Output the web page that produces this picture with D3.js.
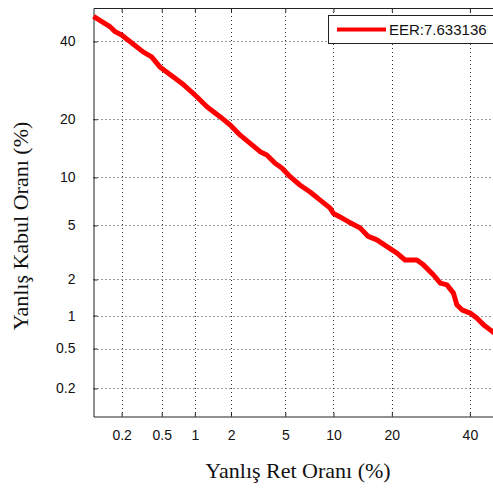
<!DOCTYPE html>
<head>
  <meta charset="utf-8">
  <script src="https://d3js.org/d3.v7.min.js"></script>
  <style>
    body { margin:0; background:white; }
    svg { display:block; }
    .tick text { font-family: "Liberation Sans", Arial, sans-serif; font-size: 14px; fill: #111; }
    .axis path, .axis line { stroke: #222; }
    .grid line { stroke: #333; stroke-dasharray: 1,3; }
    .lab { font-family: "Liberation Serif", "Times New Roman", serif; font-size: 22px; fill: #111; }
  </style>
</head>
<body>
<script>
// DET curve values, percent
var frr = [0.1, 0.152, 0.171, 0.2, 0.245, 0.33, 0.40, 0.48, 0.67, 0.77, 1.04, 1.27, 1.64, 1.97,
  2.36, 2.81, 3.33, 3.72, 4.26, 4.74, 5.39, 6.27, 7.25, 8.35, 9.57, 10.0, 10.9, 12.1, 14.0,
  15.4, 17.0, 19.0, 21.1, 22.9, 25.7, 27.3, 29.9, 31.7, 33.5, 35.3, 36.25, 37.7, 40.1, 42.0,
  44.0, 46.0, 46.9, 48.5];
var far = [47.5, 44.3, 42.9, 41.9, 39.9, 37.0, 35.6, 32.8, 29.7, 28.4, 25.1, 22.75, 20.5, 18.8,
  16.8, 15.3, 13.85, 13.3, 12.0, 11.3, 10.1, 9.0, 8.2, 7.3, 6.5, 6.0, 5.7, 5.3, 4.8,
  4.2, 3.97, 3.55, 3.18, 2.83, 2.83, 2.6, 2.17, 1.87, 1.81, 1.55, 1.24, 1.12, 1.05, 0.95,
  0.83, 0.745, 0.71, 0.66];
var xTicks = [0.2, 0.5, 1, 2, 5, 10, 20, 40];
var yTicks = [0.2, 0.5, 1, 2, 5, 10, 20, 40];
var eerLabel = "EER:7.633136";

// inverse normal cdf (Acklam)
function probit(p) {
  var a = [-39.69683028665376, 220.9460984245205, -275.9285104469687, 138.3577518672690, -30.66479806614716, 2.506628277459239];
  var b = [-54.47609879822406, 161.5858368580409, -155.6989798598866, 66.80131188771972, -13.28068155288572];
  var c = [-0.007784894002430293, -0.3223964580411365, -2.400758277161838, -2.549732539343734, 4.374664141464968, 2.938163982698783];
  var d = [0.007784695709041462, 0.3224671290700398, 2.445134137142996, 3.754408661907416];
  var q, r;
  if (p < 0.02425) {
    q = Math.sqrt(-2 * Math.log(p));
    return (((((c[0]*q+c[1])*q+c[2])*q+c[3])*q+c[4])*q+c[5]) / ((((d[0]*q+d[1])*q+d[2])*q+d[3])*q+1);
  } else if (p > 1 - 0.02425) {
    q = Math.sqrt(-2 * Math.log(1 - p));
    return -(((((c[0]*q+c[1])*q+c[2])*q+c[3])*q+c[4])*q+c[5]) / ((((d[0]*q+d[1])*q+d[2])*q+d[3])*q+1);
  }
  q = p - 0.5; r = q * q;
  return (((((a[0]*r+a[1])*r+a[2])*r+a[3])*r+a[4])*r+a[5])*q / (((((b[0]*r+b[1])*r+b[2])*r+b[3])*r+b[4])*r+1);
}
function pz(v) { return probit(v / 100); }

var width = 493, height = 503;
var pLeft = 93.5, pTop = 8, pRight = 503.5, pBottom = 416.5;

var svg = d3.select("body").append("svg").attr("width", width).attr("height", height);

var x = d3.scaleLinear().domain([pz(0.1), pz(50)]).range([pLeft, pRight]);
var y = d3.scaleLinear().domain([pz(0.1), pz(50)]).range([pBottom, pTop]);

// grid
var grid = svg.append("g").attr("class", "grid");
grid.selectAll("line.v").data(xTicks).enter().append("line")
  .attr("x1", function(d) { return Math.round(x(pz(d))) + 0.5; })
  .attr("x2", function(d) { return Math.round(x(pz(d))) + 0.5; })
  .attr("y1", pTop).attr("y2", pBottom);
grid.selectAll("line.h").data(yTicks).enter().append("line")
  .attr("y1", function(d) { return Math.round(y(pz(d))) + 0.5; })
  .attr("y2", function(d) { return Math.round(y(pz(d))) + 0.5; })
  .attr("x1", pLeft).attr("x2", pRight);

// axes (ticks inside)
svg.append("g").attr("class", "axis")
  .attr("transform", "translate(0," + pBottom + ")")
  .call(d3.axisBottom(x).tickValues(xTicks.map(pz)).tickSizeInner(-4).tickSizeOuter(0).tickPadding(14)
    .tickFormat(function(d, i) { return xTicks[i]; }));
svg.append("g").attr("class", "axis")
  .attr("transform", "translate(0," + pTop + ")")
  .call(d3.axisTop(x).tickValues(xTicks.map(pz)).tickSizeInner(-4).tickSizeOuter(0).tickFormat(""));
svg.append("g").attr("class", "axis")
  .attr("transform", "translate(" + pLeft + ",0)")
  .call(d3.axisLeft(y).tickValues(yTicks.map(pz)).tickSizeInner(-4).tickSizeOuter(0).tickPadding(18)
    .tickFormat(function(d, i) { return yTicks[i]; }));

// curve
var line = d3.line()
  .x(function(d) { return x(pz(d[0])); })
  .y(function(d) { return y(pz(d[1])); });
svg.append("path")
  .datum(d3.zip(frr, far))
  .attr("d", line)
  .attr("fill", "none")
  .attr("stroke", "#ff0000")
  .attr("stroke-width", 5)
  .attr("stroke-linejoin", "round");

// legend
var lg = svg.append("g");
lg.append("rect").attr("x", 328.5).attr("y", 15.5).attr("width", 200).attr("height", 28)
  .attr("fill", "white").attr("stroke", "#222");
lg.append("line").attr("x1", 337).attr("x2", 386).attr("y1", 29.5).attr("y2", 29.5)
  .attr("stroke", "#ff0000").attr("stroke-width", 4);
lg.append("text").attr("x", 389).attr("y", 35)
  .style("font-family", "'Liberation Sans', Arial, sans-serif").style("font-size", "15px").style("fill", "#111")
  .text(eerLabel);

// axis labels
svg.append("text").attr("class", "lab").attr("text-anchor", "middle")
  .attr("x", 298).attr("y", 478).text("Yanlış Ret Oranı (%)");
svg.append("text").attr("class", "lab").attr("text-anchor", "middle")
  .attr("transform", "translate(28,226) rotate(-90)").text("Yanlış Kabul Oranı (%)");
</script>
</body>
